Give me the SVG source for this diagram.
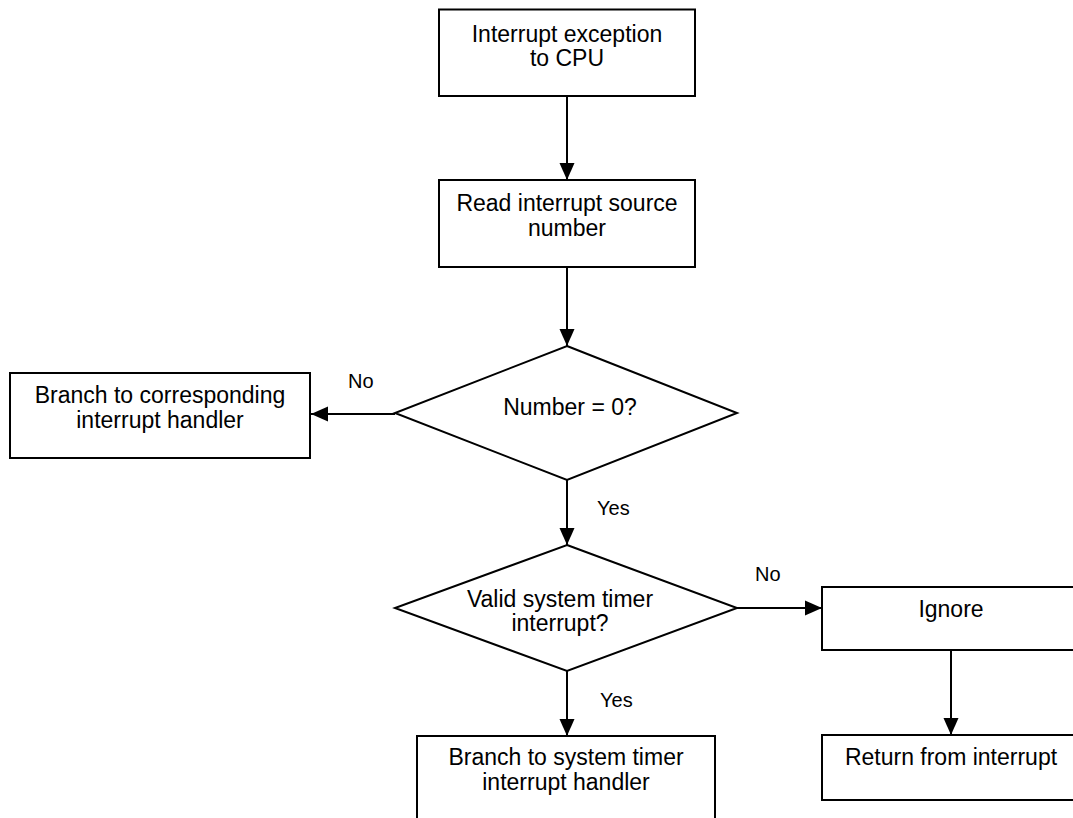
<svg xmlns="http://www.w3.org/2000/svg" width="1073" height="818" viewBox="0 0 1073 818">
<defs>
<marker id="ah" markerWidth="17" markerHeight="16" refX="17" refY="8" orient="auto" markerUnits="userSpaceOnUse">
<path d="M0,0.5 L17,8 L0,15.5 Z" fill="#000"/>
</marker>
<style>
.shape{fill:#fff;stroke:#000;stroke-width:2}
.t{font-family:"Liberation Sans",Arial,sans-serif;font-size:23px;fill:#000;text-anchor:middle}
.l{font-family:"Liberation Sans",Arial,sans-serif;font-size:20px;fill:#000}
.c{fill:none;stroke:#000;stroke-width:2}
</style>
</defs>
<rect width="1073" height="818" fill="#fff"/>
<g id="connectors">
<line class="c" x1="567" y1="96" x2="567" y2="180" marker-end="url(#ah)"/>
<line class="c" x1="567" y1="267" x2="567" y2="346" marker-end="url(#ah)"/>
<line class="c" x1="395" y1="414" x2="311" y2="414" marker-end="url(#ah)"/>
<line class="c" x1="567" y1="480" x2="567" y2="545" marker-end="url(#ah)"/>
<line class="c" x1="737" y1="608" x2="822" y2="608" marker-end="url(#ah)"/>
<line class="c" x1="567" y1="671" x2="567" y2="736" marker-end="url(#ah)"/>
<line class="c" x1="951" y1="650" x2="951" y2="735" marker-end="url(#ah)"/>
<text class="l" x="348" y="388">No</text>
<text class="l" x="597" y="515">Yes</text>
<text class="l" x="755" y="581">No</text>
<text class="l" x="600" y="707">Yes</text>
</g>
<g id="n1">
<rect class="shape" x="439" y="9.5" width="256" height="86.5"/>
<text class="t" x="567" y="42">Interrupt exception</text>
<text class="t" x="567" y="66">to CPU</text>
</g>
<g id="n2">
<rect class="shape" x="439" y="180" width="256" height="87"/>
<text class="t" x="567" y="211">Read interrupt source</text>
<text class="t" x="567" y="236">number</text>
</g>
<g id="d1">
<polygon class="shape" points="567,346 737,413 567,480 395,413"/>
<text class="t" x="570" y="415">Number = 0?</text>
</g>
<g id="n3">
<rect class="shape" x="10" y="373" width="300" height="85"/>
<text class="t" x="160" y="403">Branch to corresponding</text>
<text class="t" x="160" y="428">interrupt handler</text>
</g>
<g id="d2">
<polygon class="shape" points="567,545 737,608 567,671 395,608"/>
<text class="t" x="560" y="607">Valid system timer</text>
<text class="t" x="560" y="631">interrupt?</text>
</g>
<g id="n4">
<rect class="shape" x="822" y="587" width="260" height="63"/>
<text class="t" x="951" y="617">Ignore</text>
</g>
<g id="n5">
<rect class="shape" x="822" y="735" width="260" height="65"/>
<text class="t" x="951" y="765">Return from interrupt</text>
</g>
<g id="n6">
<rect class="shape" x="417" y="736" width="298" height="100"/>
<text class="t" x="566" y="765">Branch to system timer</text>
<text class="t" x="566" y="790">interrupt handler</text>
</g>
</svg>
